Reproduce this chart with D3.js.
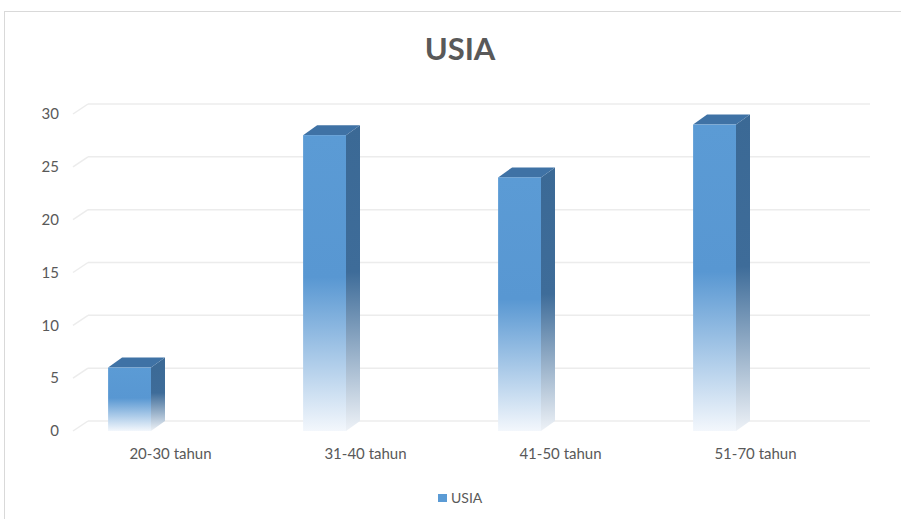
<!DOCTYPE html>
<html>
<head>
<meta charset="utf-8">
<script src="https://cdn.jsdelivr.net/npm/d3@7"></script>
<style>
  body { margin: 0; background: #ffffff; }
  text { font-family: Lato, "Open Sans", sans-serif; }
</style>
</head>
<body>
<div id="chart"></div>
<script>
// Data
const categories = ["20-30 tahun", "31-40 tahun", "41-50 tahun", "51-70 tahun"];
const values = [6, 28, 24, 29];
const yTicks = [0, 5, 10, 15, 20, 25, 30];
const seriesName = "USIA";

// Globals
const W = 901, H = 519;
const depth = {dx: 15, dy: -10};   // 3d offset of the back wall
const bar3d = {dx: 14, dy: -10};   // 3d offset of a column
const front = {left: 73, right: 853, bottom: 431, top: 114};

var svg = d3.select("#chart")
  .append("svg")
    .attr("width", W)
    .attr("height", H);

// outer chart border
svg.append("rect")
  .attr("x", 4.5).attr("y", 11.5)
  .attr("width", 1000).attr("height", 1000)
  .attr("fill", "none")
  .attr("stroke", "#d9d9d9");

// gradients
var defs = svg.append("defs");
var gFront = defs.append("linearGradient")
  .attr("id", "gradFront").attr("x1", 0).attr("y1", 0).attr("x2", 0).attr("y2", 1);
gFront.append("stop").attr("offset", "0%").attr("stop-color", "#5b9bd5");
gFront.append("stop").attr("offset", "48%").attr("stop-color", "#5897d2");
gFront.append("stop").attr("offset", "100%").attr("stop-color", "#f3f7fc");
var gSide = defs.append("linearGradient")
  .attr("id", "gradSide").attr("x1", 0).attr("y1", 0).attr("x2", 0).attr("y2", 1);
gSide.append("stop").attr("offset", "0%").attr("stop-color", "#3b6995");
gSide.append("stop").attr("offset", "48%").attr("stop-color", "#3e6c99");
gSide.append("stop").attr("offset", "100%").attr("stop-color", "#eef2f7");

// scales (front plane)
var x = d3.scaleBand()
  .domain(categories)
  .range([front.left, front.right]);
var y = d3.scaleLinear()
  .domain([0, 30])
  .range([front.bottom, front.top]);

// title
svg.append("text")
  .attr("x", 460).attr("y", 60)
  .attr("text-anchor", "middle")
  .attr("font-size", 31)
  .attr("font-weight", "bold")
  .attr("fill", "#595959")
  .text(seriesName);

// back wall gridlines + side wall diagonals
var grid = svg.append("g");
grid.selectAll("line.back")
  .data(yTicks)
  .enter()
  .append("line")
    .attr("class", "back")
    .attr("x1", front.left + depth.dx)
    .attr("x2", front.right + depth.dx + 2)
    .attr("y1", d => y(d) + depth.dy)
    .attr("y2", d => y(d) + depth.dy)
    .attr("stroke", "#ececec")
    .attr("stroke-width", 1.5);
grid.selectAll("line.side")
  .data(yTicks)
  .enter()
  .append("line")
    .attr("class", "side")
    .attr("x1", front.left)
    .attr("x2", front.left + depth.dx)
    .attr("y1", d => y(d))
    .attr("y2", d => y(d) + depth.dy)
    .attr("stroke", "#ececec")
    .attr("stroke-width", 1.5);

// y axis labels
svg.append("g")
  .attr("transform", "translate(59,0)")
  .call(d3.axisLeft(y).tickValues(yTicks).tickSize(0).tickPadding(0))
  .call(g => g.select(".domain").remove())
  .call(g => g.selectAll("text")
    .attr("font-size", 15)
    .attr("fill", "#595959")
    .style("font-family", "Lato, sans-serif"));

// x axis labels
svg.append("g")
  .attr("transform", "translate(0," + (front.bottom + 17) + ")")
  .call(d3.axisBottom(x).tickSize(0).tickPadding(0))
  .call(g => g.select(".domain").remove())
  .call(g => g.selectAll("text")
    .attr("font-size", 15)
    .attr("fill", "#595959")
    .style("font-family", "Lato, sans-serif"));

// 3d columns
var barOffset = x.bandwidth() * 0.18;
var barWidth = x.bandwidth() * 0.22;
var bars = svg.append("g")
  .selectAll("g")
  .data(values)
  .enter()
  .append("g");

// side face
bars.append("polygon")
  .attr("points", (d, i) => {
    var x1 = x(categories[i]) + barOffset + barWidth;
    var yt = y(d), yb = y(0);
    return [[x1, yt], [x1 + bar3d.dx, yt + bar3d.dy],
            [x1 + bar3d.dx, yb + bar3d.dy], [x1, yb]].join(" ");
  })
  .attr("fill", "url(#gradSide)");

// top face
bars.append("polygon")
  .attr("points", (d, i) => {
    var x0 = x(categories[i]) + barOffset;
    var x1 = x0 + barWidth;
    var yt = y(d);
    return [[x0, yt], [x1, yt], [x1 + bar3d.dx, yt + bar3d.dy],
            [x0 + bar3d.dx, yt + bar3d.dy]].join(" ");
  })
  .attr("fill", "#3f72a5");

// front face
bars.append("rect")
  .attr("x", (d, i) => x(categories[i]) + barOffset)
  .attr("y", d => y(d))
  .attr("width", barWidth)
  .attr("height", d => y(0) - y(d))
  .attr("fill", "url(#gradFront)");

// legend
var legend = svg.append("g").attr("transform", "translate(438,494)");
legend.append("rect")
  .attr("width", 9).attr("height", 8)
  .attr("fill", "#5b9bd5");
legend.append("text")
  .attr("x", 13).attr("y", 9)
  .attr("font-size", 14)
  .attr("fill", "#595959")
  .text(seriesName);
</script>
</body>
</html>
